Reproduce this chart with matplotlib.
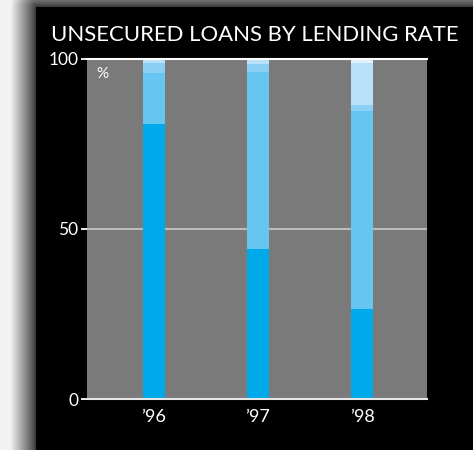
import numpy as np
import matplotlib.pyplot as plt

years = ["\u201996", "\u201997", "\u201998"]
# share of unsecured loans per lending-rate band, bottom band first (%)
band1 = [80.8, 44.1, 26.4]
band2 = [15.0, 51.9, 58.2]
band3 = [2.8, 2.4, 1.7]
band4 = [1.4, 1.6, 12.3]
band5 = [0.0, 0.0, 1.4]
bands = [band1, band2, band3, band4, band5]
colors = ["#00aaea", "#66c6f1", "#8ccff5", "#b8e0f8", "#e0f2fc"]

plt.rcParams["font.family"] = ["Lato", "DejaVu Sans"]

W, H = 473, 450
fig = plt.figure(figsize=(W / 100, H / 100), dpi=100)

# backdrop: black panel with a soft shadow to the left and top
bg = fig.add_axes([0, 0, 1, 1])
px, py = 36, 7
xx, yy = np.meshgrid(np.arange(W), np.arange(H))
dx = np.clip(px - xx, 0, None)
dy = np.clip(py - yy, 0, None)
d = np.sqrt(dx ** 2 + dy ** 2)
shade = 0.2 + 0.75 * np.clip(d / 26.0, 0, 1) ** 0.9
shade[(xx >= px) & (yy >= py)] = 0.0
bg.imshow(np.dstack([shade] * 3), aspect="auto", interpolation="bilinear",
          extent=[0, 1, 0, 1], origin="upper")
bg.set_axis_off()

fig.text(51 / W, 1 - 41 / H, "UNSECURED LOANS BY LENDING RATE", color="white",
         fontsize=15.9, ha="left", va="baseline")

ax = fig.add_axes([86.7 / W, 1 - 399 / H, (427 - 86.7) / W, (399 - 58.5) / H])
ax.set_facecolor("#7a7a7a")
x = np.arange(len(years))
bottom = np.zeros(len(years))
for vals, c in zip(bands, colors):
    ax.bar(x, vals, width=0.21, bottom=bottom, color=c, zorder=3)
    bottom += np.array(vals)

ax.axhline(50, color="#c4c4c4", lw=1.3, zorder=2)
ax.axhline(0, color="#e6e6e6", lw=1.5, zorder=4, clip_on=False)
ax.axhline(100, color="white", lw=1.5, zorder=4, clip_on=False)

ax.set_xlim(-0.644, 2.625)
ax.set_ylim(0, 100)
ax.set_xticks(x)
ax.set_xticklabels(years)
ax.set_yticks([0, 50, 100])
ax.tick_params(axis="x", length=0, pad=7, colors="white", labelsize=13)
ax.tick_params(axis="y", length=4, width=1.3, pad=2, colors="white",
               labelsize=12.5)
for s in ax.spines.values():
    s.set_visible(False)

ax.text(0.027, 0.975, "%", transform=ax.transAxes, color="white",
        fontsize=11, ha="left", va="top")

fig.savefig("out.png", dpi=100, facecolor="black")
